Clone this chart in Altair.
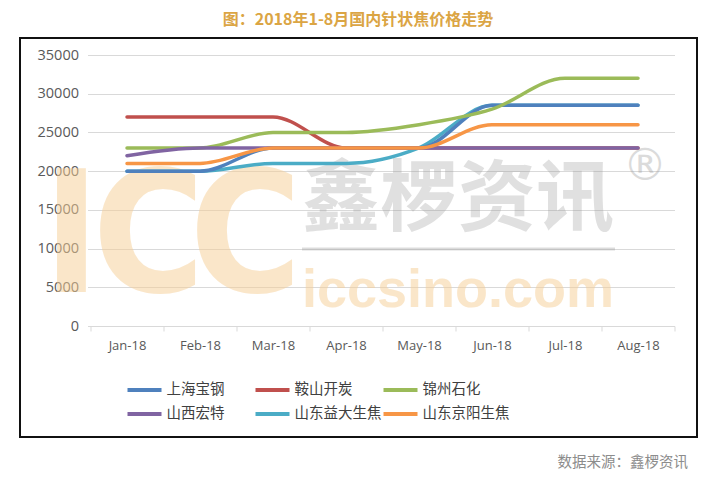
import altair as alt
import pandas as pd

months = ["Jan-18", "Feb-18", "Mar-18", "Apr-18", "May-18", "Jun-18", "Jul-18", "Aug-18"]
series_names = ["上海宝钢", "鞍山开炭", "锦州石化", "山西宏特", "山东益大生焦", "山东京阳生焦"]
series_colors = ["#4f81bd", "#c0504d", "#9bbb59", "#8064a2", "#4bacc6", "#f79646"]

baosteel = [20000, 20000, 23000, 23000, 23000, 28500, 28500, 28500]
anshan = [27000, 27000, 27000, 23000, 23000, 23000, 23000, 23000]
jinzhou = [23000, 23000, 25000, 25000, 26000, 28000, 32000, 32000]
shanxi = [22000, 23000, 23000, 23000, 23000, 23000, 23000, 23000]
yida = [20000, 20000, 21000, 21000, 23000, 28500, 28500, 28500]
jingyang = [21000, 21000, 23000, 23000, 23000, 26000, 26000, 26000]

y_ticks = [0, 5000, 10000, 15000, 20000, 25000, 30000, 35000]

title_text = "图：2018年1-8月国内针状焦价格走势"
source_text = "数据来源：鑫椤资讯"

all_series = [baosteel, anshan, jinzhou, shanxi, yida, jingyang]
rows = []
for name, vals in zip(series_names, all_series):
    for m, v in zip(months, vals):
        rows.append({"month": m, "series": name, "price": v})
df = pd.DataFrame(rows)
df_under = df[df["series"] == "山东益大生焦"]
df_over = df[df["series"] != "山东益大生焦"]

CJK = "Noto Sans CJK SC"
LAT = "Open Sans"

x_enc = alt.X(
    "month:N", sort=months, bandPosition=0.5,
    scale=alt.Scale(type="band", paddingInner=0, paddingOuter=0, domain=months),
    axis=alt.Axis(title=None, labelAngle=0, tickBand="extent", tickSize=5,
                  tickColor="#d9d9d9", domainColor="#d9d9d9", domainWidth=1,
                  labelPadding=8, labelFont=LAT, labelFontSize=13,
                  labelColor="#595959", grid=False),
)
y_enc = alt.Y(
    "price:Q",
    scale=alt.Scale(domain=[0, 35000], nice=False),
    axis=alt.Axis(title=None, values=y_ticks, format="d", grid=True,
                  gridColor="#d9d9d9", domain=False, tickSize=3,
                  tickColor="#d9d9d9", labelPadding=9, labelFont=LAT,
                  labelFontSize=14.5, labelColor="#595959"),
)
color_enc = alt.Color(
    "series:N",
    scale=alt.Scale(domain=series_names, range=series_colors),
    legend=alt.Legend(title=None, orient="none", legendX=35, legendY=327,
                      direction="horizontal", columns=3, gridAlign="all",
                      symbolType="stroke", symbolStrokeWidth=4, symbolSize=1156,
                      clipHeight=16, labelFont=CJK,
                      labelFontSize=14.5, labelColor="#404040", labelOffset=3,
                      columnPadding=-10, rowPadding=8, labelLimit=300),
)

def deco_text(text, x, y, **kw):
    return alt.Chart(alt.Data(values=[{}])).mark_text(text=text, **kw).encode(
        x=alt.value(x), y=alt.value(y))

frame = alt.Chart(alt.Data(values=[{}])).mark_rect(
    filled=False, stroke="#111111", strokeWidth=2).encode(
    x=alt.value(-70.5), x2=alt.value(606.5), y=alt.value(-17), y2=alt.value(382))

wm_kw = dict(fontWeight="bold", color="#f7cf95", opacity=0.5,
             font="Liberation Sans Narrow, DejaVu Sans Condensed, sans-serif",
             fontSize=170, baseline="middle", align="center")
wm_I = deco_text("I", -19, 186, **wm_kw)
wm_C1 = deco_text("C", 58, 186, **wm_kw)
wm_C2 = deco_text("C", 155, 186, **wm_kw)
wm_cn = deco_text("鑫椤资讯", 367.5, 147, font=CJK, fontSize=78, fontWeight="bold",
                  color="#9a9a9a", opacity=0.3, baseline="middle", align="center")
wm_rule = alt.Chart(alt.Data(values=[{}])).mark_rule(
    color="#9a9a9a", opacity=0.35, strokeWidth=3).encode(
    x=alt.value(211.5), x2=alt.value(524.5), y=alt.value(194))
wm_url = deco_text("iccsino.com", 367.5, 252, font="Liberation Sans", fontSize=54,
                   fontWeight="bold", color="#f7cf95", opacity=0.5,
                   baseline="alphabetic", align="center")
wm_reg = deco_text("®", 554.5, 112, font="DejaVu Sans", fontSize=44,
                   color="#9a9a9a", opacity=0.35, baseline="middle", align="center")

line_under = alt.Chart(df_under).mark_line(
    interpolate="monotone", strokeWidth=3.5, strokeCap="round").encode(
    x=x_enc, y=y_enc, color=color_enc)
line_over = alt.Chart(df_over).mark_line(
    interpolate="monotone", strokeWidth=3.5, strokeCap="round").encode(
    x=x_enc, y=y_enc, color=color_enc)

title = deco_text(title_text, 267.5, -35, font=CJK, fontSize=16, fontWeight="bold",
                  color="#dba544", baseline="middle", align="center")
source = deco_text(source_text, 597.5, 408, font=CJK, fontSize=14.5,
                   color="#8c8c8c", baseline="middle", align="right")

chart = alt.layer(
    frame, wm_I, wm_C1, wm_C2, wm_cn, wm_rule, wm_url, wm_reg,
    line_under, line_over, title, source
).properties(
    width=584, height=271,
    autosize=alt.AutoSizeParams(type="none"),
    padding={"left": 82.5, "top": 47, "right": 24.5, "bottom": 146},
    background="white",
).configure_view(stroke=None)

chart.save("out.html", embed_options={"renderer": "svg", "actions": False})
